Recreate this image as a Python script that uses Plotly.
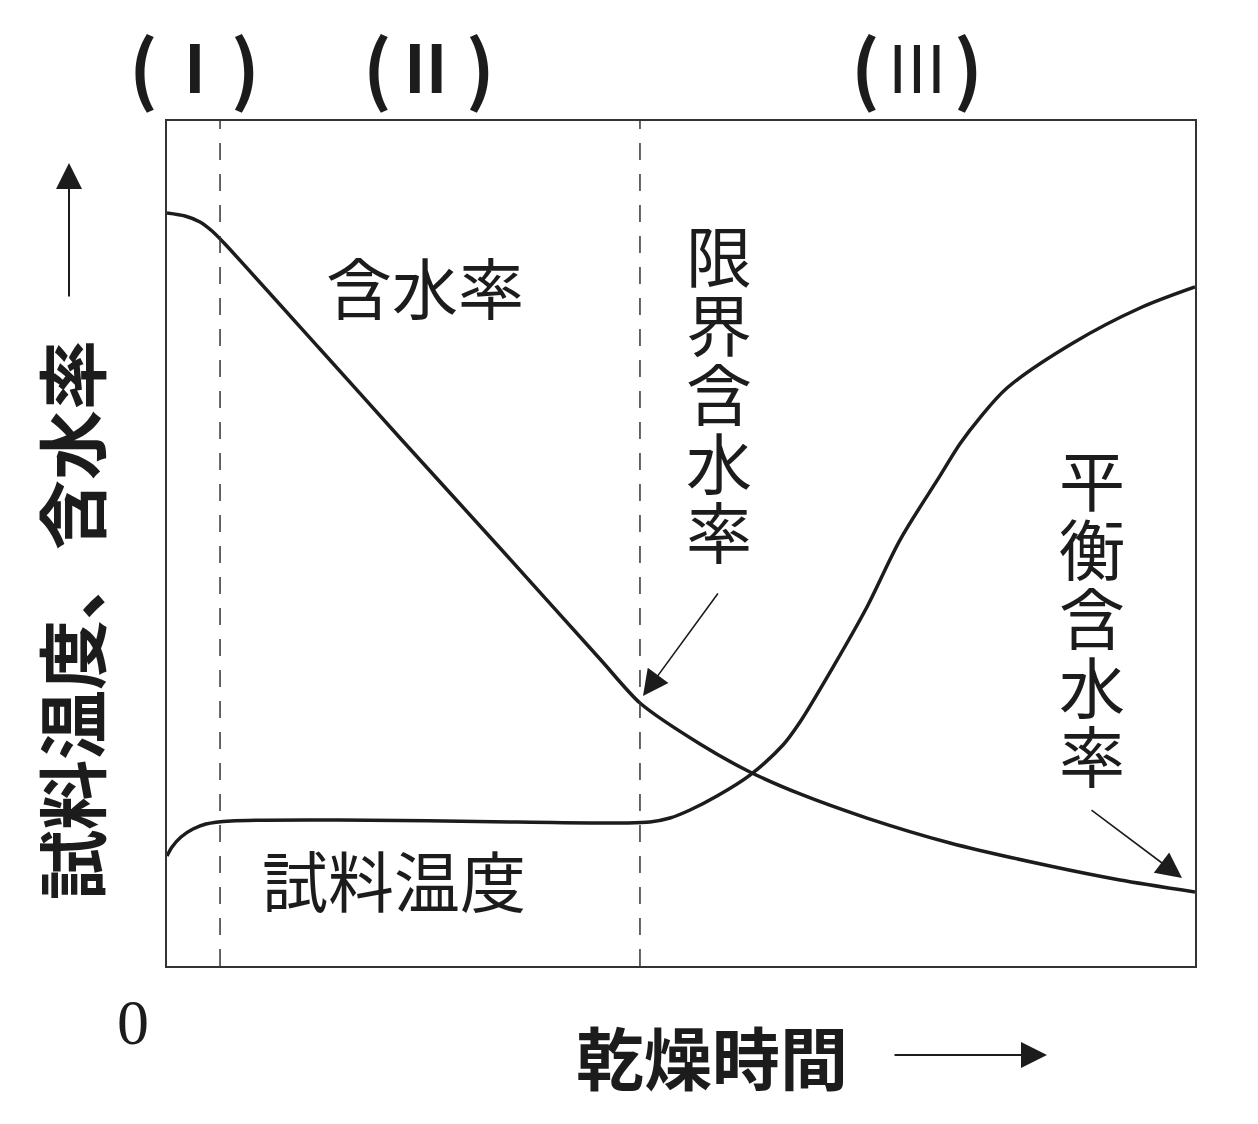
import plotly.graph_objects as go

# ---- data (arbitrary units: drying time 0-100, value 0-100) ----
moisture_time = [0, 1.75, 3.21, 4.38, 5.64, 14.88, 22.67, 32.39, 42.12, 46.01,
                 51.85, 56.71, 61.58, 68.09, 76.17, 85.89, 92.70, 100]
moisture_val = [89.11, 88.76, 88.05, 86.98, 85.44, 73.02, 62.49, 49.47, 36.33, 31.12,
                26.27, 22.96, 20.36, 17.51, 14.56, 11.83, 10.18, 8.76]

temp_time = [0, 0.49, 1.36, 2.53, 3.79, 6.23, 16.73, 34.05, 44.46, 46.98, 48.93, 50.88,
             53.50, 56.71, 59.92, 61.58, 64.79, 68.09, 71.30, 75.19, 77.14, 79.09, 81.71,
             88.13, 94.65, 100]
temp_val = [13.02, 14.08, 15.27, 16.21, 16.80, 17.16, 17.28, 17.04, 16.92, 17.04, 17.51, 18.46,
            20.12, 22.60, 26.15, 28.88, 35.38, 42.49, 50.41, 58.00, 61.80, 64.90, 68.40,
            73.73, 77.87, 80.36]

phase_boundaries = [5.16, 46.01]
phase_labels = ["I", "II", "III"]

# ---- layout geometry ----
W, H = 1258, 1124
L, R, T, B = 167, 63, 121, 158
PW = W - L - R
PH = H - T - B


def pxx(px):
    return (px - L) / PW


def pxy(py):
    return (H - B - py) / PH


INK = "#1c1c1c"
SANS = "Noto Sans CJK JP"

fig = go.Figure()
fig.add_trace(go.Scatter(x=moisture_time, y=moisture_val, mode="lines",
                         line=dict(color=INK, width=3.5, shape="spline", smoothing=0.7),
                         hoverinfo="skip", showlegend=False))
fig.add_trace(go.Scatter(x=temp_time, y=temp_val, mode="lines",
                         line=dict(color=INK, width=3.5, shape="spline", smoothing=0.9),
                         hoverinfo="skip", showlegend=False))

shapes = []
for xb in phase_boundaries:
    shapes.append(dict(type="line", xref="x", yref="y", x0=xb, x1=xb, y0=0, y1=100,
                       line=dict(color="#333333", width=1.5, dash="17px,14px")))

ann = []


def text(px, py, s, size, family=SANS, weight="normal", color=INK, angle=0):
    ann.append(dict(x=pxx(px), y=pxy(py), xref="paper", yref="paper", text=s,
                    showarrow=False, xanchor="center", yanchor="middle", textangle=angle,
                    font=dict(family=family, size=size, color=color, weight=weight)))


def arrow(tx, ty, fx, fy, width=1.6, size=3.2):
    ann.append(dict(x=pxx(tx), y=pxy(ty), xref="paper", yref="paper",
                    ax=fx - tx, ay=fy - ty, axref="pixel", ayref="pixel",
                    text="", showarrow=True, arrowhead=2,
                    arrowsize=size, arrowwidth=width, arrowcolor=INK, standoff=0))


# phase labels above plot
for lp, rp, cx, lab, wt in [(143, 245, 195, phase_labels[0], "bold"),
                            (377, 480, 426, phase_labels[1], "bold"),
                            (865, 968, 917, phase_labels[2], "normal")]:
    text(lp, 64, "(", 76, weight="bold")
    text(rp, 64, ")", 76, weight="bold")
    text(cx, 64, lab, 66, weight=wt)

# inner labels
text(425, 285, "含水率", 66)
text(394, 878, "試料温度", 66)
for i, ch in enumerate("限界含水率"):
    text(719, 253 + 69 * i, ch, 66)
for i, ch in enumerate("平衡含水率"):
    text(1092, 477 + 69 * i, ch, 66)

# arrows
arrow(643, 696, 719, 592)
arrow(1182, 878, 1090, 809)
arrow(69, 163, 69, 298, width=2, size=2.6)
arrow(1047, 1055, 893, 1055, width=2, size=2.6)

# axis labels
text(69, 620, "試料温度、含水率", 70, weight="bold", angle=-90)
text(712, 1055, "乾燥時間", 68, weight="bold")
text(133, 1022, "0", 64, family="Liberation Serif")

fig.update_layout(
    width=W, height=H,
    margin=dict(l=L, r=R, t=T, b=B),
    paper_bgcolor="white", plot_bgcolor="white",
    xaxis=dict(range=[0, 100], showgrid=False, zeroline=False, showticklabels=False,
               ticks="", showline=True, mirror=True, linecolor="#333333", linewidth=2),
    yaxis=dict(range=[0, 100], showgrid=False, zeroline=False, showticklabels=False,
               ticks="", showline=True, mirror=True, linecolor="#333333", linewidth=2),
    shapes=shapes, annotations=ann,
)

fig.write_html("out.html")
